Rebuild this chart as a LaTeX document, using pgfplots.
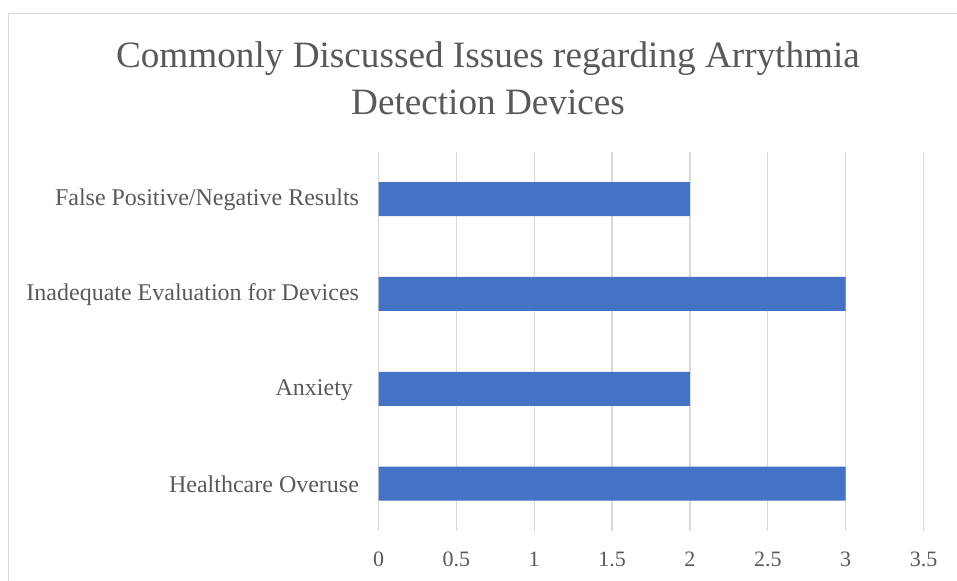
\documentclass[border=0pt]{standalone}
\usepackage{pgfplots}
\pgfplotsset{compat=1.18}
\usepackage{fontspec}
\setmainfont{Liberation Serif}
\definecolor{barblue}{HTML}{4472C4}
\definecolor{gridgray}{HTML}{D9D9D9}
\definecolor{txtgray}{HTML}{595959}
\begin{document}
\begin{tikzpicture}
\path[use as bounding box] (0,0) rectangle (957bp,581bp);
\draw[gridgray, line width=1.2bp] (8.5bp,-20bp) -- (8.5bp,567.5bp) -- (1000bp,567.5bp);
\node[txtgray, font=\fontsize{37.2bp}{40bp}\selectfont] at (488bp,522bp) {Commonly Discussed Issues regarding Arrythmia};
\node[txtgray, font=\fontsize{37.2bp}{40bp}\selectfont] at (488bp,479bp) {Detection Devices};
\begin{axis}[
  at={(378.5bp,50bp)}, anchor=south west,
  scale only axis, width=545bp, height=379.3bp,
  xbar, bar width=34bp,
  xmin=0, xmax=3.5, ymin=-0.5, ymax=3.5,
  xtick={0,0.5,...,3.5},
  ytick={0,1,2,3},
  yticklabels={Healthcare Overuse, Anxiety\kern6bp, Inadequate Evaluation for Devices, False Positive/Negative Results},
  xmajorgrids, major grid style={gridgray, line width=1.2bp},
  axis line style={draw=none},
  major tick length=0pt,
  /pgf/number format/assume math mode=true,
  xticklabel style={txtgray, font=\fontsize{22bp}{24bp}\selectfont, yshift=-17bp},
  yticklabel style={txtgray, font=\fontsize{24bp}{26bp}\selectfont, xshift=-16bp, yshift=-1bp},
]
\addplot[fill=barblue, draw=none] coordinates {(3,0) (2,1) (3,2) (2,3)};
\end{axis}
\end{tikzpicture}
\end{document}
